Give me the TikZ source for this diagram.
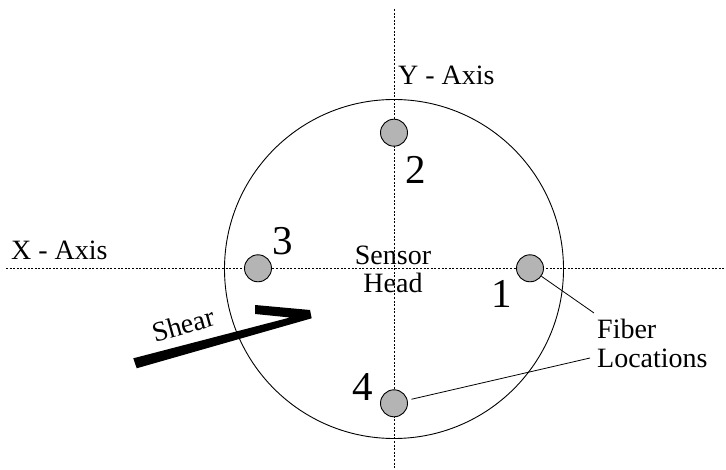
\documentclass[tikz,border=0pt]{standalone}
\usepackage{fontspec}
\setmainfont{Liberation Serif}
\begin{document}
\begin{tikzpicture}[x=1pt,y=-1pt,
  axisline/.style={line width=0.8pt,dash pattern=on 2pt off 1.6pt},
  fiber/.style={circle,draw=black,line width=0.9pt,fill={rgb,255:red,180;green,180;blue,180},minimum size=27pt,inner sep=0pt},
  txt/.style={inner sep=0pt,font=\fontsize{28}{30}\selectfont},
  num/.style={inner sep=0pt,font=\fontsize{41}{41}\selectfont},
  leader/.style={line width=0.8pt}]
\useasboundingbox (0,0) rectangle (726,470);
% axes
\coordinate (yt) at (394,9);
\coordinate (yb) at (394,468);
\coordinate (xl) at (6,268.3);
\coordinate (xr) at (725,268.3);
\draw[axisline] (yt) -- (yb);
\draw[axisline] (xl) -- (xr);
% sensor head
\node[circle,draw=black,line width=0.9pt,minimum size=339pt,inner sep=0pt] (head) at (394,269) {};
% fibers
\node[fiber] (f1) at (530,268.3) {};
\node[fiber] (f2) at (394,132.7) {};
\node[fiber] (f3) at (258,268.3) {};
\node[fiber] (f4) at (394,403.3) {};
% numbers
\node[num,anchor=base] (n1) at (502,307.7) {1};
\node[num,anchor=base] (n2) at (415.5,183.3) {2};
\node[num,anchor=base] (n3) at (283,255) {3};
\node[num,anchor=base] (n4) at (363,400) {4};
% labels
\node[txt,anchor=base west] (ylab) at (398,85) {Y - Axis};
\node[txt,anchor=base west] (xlab) at (11,260) {X - Axis};
\node[txt,anchor=base] (sens) at (393,265) {Sensor};
\node[txt,anchor=base] (hd) at (393,293) {Head};
\node[txt,anchor=base west] (fib) at (597,339) {Fiber};
\node[txt,anchor=base west] (loc) at (597,368) {Locations};
% leaders
\coordinate (l1) at (594,313);
\coordinate (l4) at (590,358);
\draw[leader] (f1) -- (l1);
\draw[leader,shorten <=4pt] (f4) -- (l4);
% shear
\fill[black] (133.3,358.3) -- (290,317.5) -- (255,314) -- (255,305) -- (310,310) -- (311.7,318.3) -- (136.7,368.3) -- cycle;
\node[txt,anchor=base,rotate=15.5] (shear) at (186,334) {Shear};
\end{tikzpicture}
\end{document}
